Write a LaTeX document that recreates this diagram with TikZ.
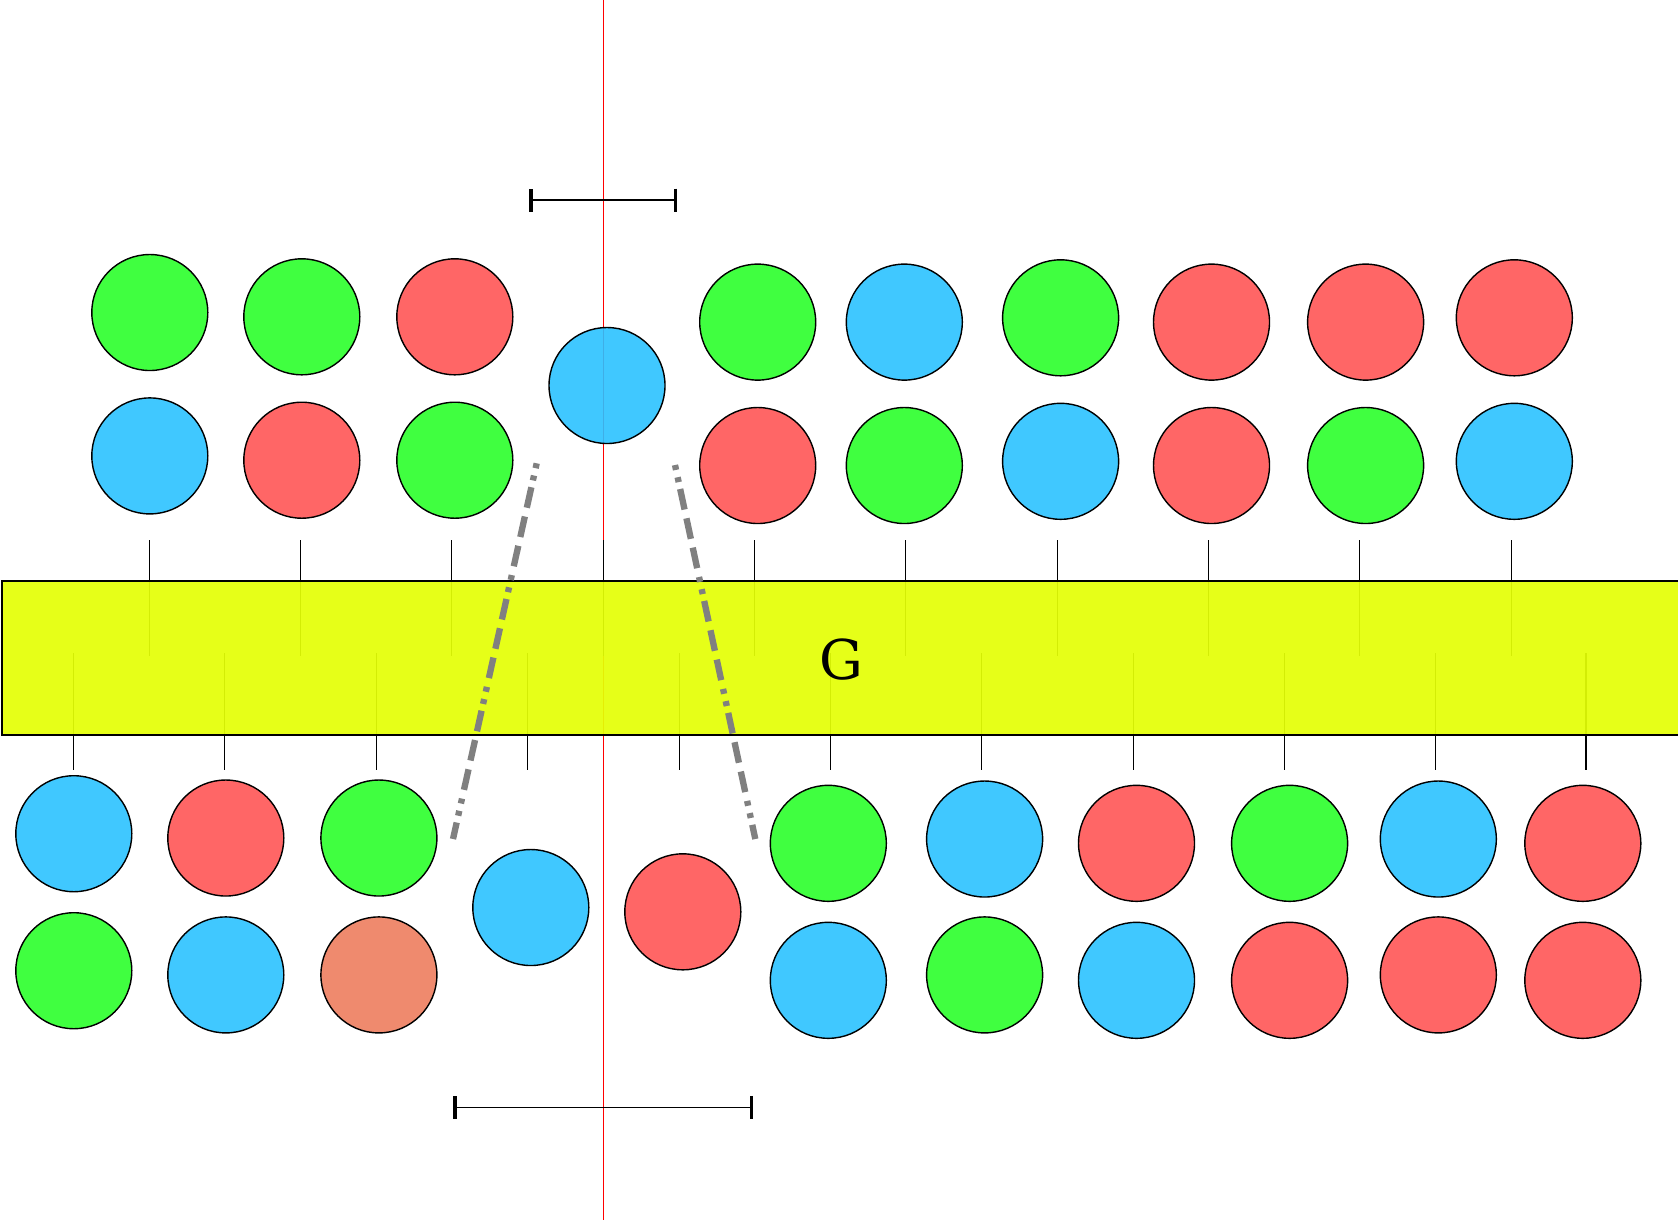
\documentclass[tikz,border=0pt]{standalone}
\usepackage{fontspec}
\newfontfamily\gatefont{DejaVu Serif}
\usepackage{tikz}
\usetikzlibrary{arrows.meta}
\definecolor{cgreen}{HTML}{2BFF2B}
\definecolor{cred}{HTML}{FF5555}
\definecolor{cblue}{HTML}{2BC2FF}
\definecolor{csalmon}{HTML}{ED7D5E}
\definecolor{cyellow}{HTML}{E4FF06}
\definecolor{cgray}{HTML}{808080}

\begin{document}
\begin{tikzpicture}
    % Define styles
    \tikzstyle{ball} = [circle, draw=black, line width=0.4pt, minimum size=1.16cm, inner sep=0pt, fill opacity=0.9]
    \tikzstyle{gball} = [ball, fill=cgreen]
    \tikzstyle{rball} = [ball, fill=cred]
    \tikzstyle{bball} = [ball, fill=cblue]
    \tikzstyle{sball} = [ball, fill=csalmon]
    \tikzstyle{rod} = [black, line width=0.35pt]
    \tikzstyle{gate} = [draw=black, line width=0.45pt, fill=cyellow, fill opacity=0.93]
    \tikzstyle{axis} = [red, line width=0.4pt]
    \tikzstyle{guide} = [cgray, line width=1.8pt, dash pattern=on 0.05cm off 0.075cm on 0.05cm off 0.07cm on 0.21cm off 0.09cm on 0.21cm off 0.09cm on 0.21cm off 0.09cm]
    \tikzstyle{scalebar} = [line width=0.45pt, {Bar[width=0.23cm, line width=1.0pt]}-{Bar[width=0.23cm, line width=1.0pt]}]

    \useasboundingbox (0,0) rectangle (16.78,-12.23);
    \clip (0,0) rectangle (16.78,-12.23);

    % Axis
    \coordinate (axtop) at (6.033,0);
    \coordinate (axbot) at (6.033,-12.20);
    \draw [axis] (axtop) -- (axbot);

    % Rods above the gate
    \draw [rod] (1.498,-5.404) -- (1.498,-6.56);
    \draw [rod] (3.007,-5.404) -- (3.007,-6.56);
    \draw [rod] (4.516,-5.404) -- (4.516,-6.56);
    \draw [rod] (6.036,-5.404) -- (6.036,-6.56);
    \draw [rod] (7.545,-5.404) -- (7.545,-6.56);
    \draw [rod] (9.054,-5.404) -- (9.054,-6.56);
    \draw [rod] (10.574,-5.404) -- (10.574,-6.56);
    \draw [rod] (12.083,-5.404) -- (12.083,-6.56);
    \draw [rod] (13.592,-5.404) -- (13.592,-6.56);
    \draw [rod] (15.111,-5.404) -- (15.111,-6.56);
    % Rods below the gate
    \draw [rod] (0.738,-6.53) -- (0.738,-7.70);
    \draw [rod] (2.247,-6.53) -- (2.247,-7.70);
    \draw [rod] (3.767,-6.53) -- (3.767,-7.70);
    \draw [rod] (5.276,-6.53) -- (5.276,-7.70);
    \draw [rod] (6.796,-6.53) -- (6.796,-7.70);
    \draw [rod] (8.305,-6.53) -- (8.305,-7.70);
    \draw [rod] (9.814,-6.53) -- (9.814,-7.70);
    \draw [rod] (11.333,-6.53) -- (11.333,-7.70);
    \draw [rod] (12.842,-6.53) -- (12.842,-7.70);
    \draw [rod] (14.351,-6.53) -- (14.351,-7.70);
    \draw [rod] (15.860,-6.53) -- (15.860,-7.70);

    % Gate
    \draw [gate] (0.02,-5.81) rectangle (17.2,-7.35);
    \node (glabel) at (8.41,-6.60) {\gatefont\fontsize{15.6}{18}\selectfont G};

    % Upper balls
    \node (t1) [gball] at (1.498,-3.125) {};
    \node (t2) [gball] at (3.018,-3.168) {};
    \node (t3) [rball] at (4.548,-3.168) {};
    \node (t4) [gball] at (7.577,-3.221) {};
    \node (t5) [bball] at (9.043,-3.221) {};
    \node (t6) [gball] at (10.606,-3.178) {};
    \node (t7) [rball] at (12.115,-3.221) {};
    \node (t8) [rball] at (13.656,-3.221) {};
    \node (t9) [rball] at (15.143,-3.178) {};
    \node (u1) [bball] at (1.498,-4.559) {};
    \node (u2) [rball] at (3.018,-4.602) {};
    \node (u3) [gball] at (4.548,-4.602) {};
    \node (u4) [rball] at (7.577,-4.655) {};
    \node (u5) [gball] at (9.043,-4.655) {};
    \node (u6) [bball] at (10.606,-4.613) {};
    \node (u7) [rball] at (12.115,-4.655) {};
    \node (u8) [gball] at (13.656,-4.655) {};
    \node (u9) [bball] at (15.143,-4.613) {};
    \node (m1) [bball] at (6.070,-3.855) {};

    % Lower balls
    \node (b1) [bball] at (0.738,-8.337) {};
    \node (b2) [rball] at (2.258,-8.380) {};
    \node (b3) [gball] at (3.789,-8.380) {};
    \node (b4) [gball] at (8.283,-8.433) {};
    \node (b5) [bball] at (9.846,-8.390) {};
    \node (b6) [rball] at (11.365,-8.433) {};
    \node (b7) [gball] at (12.896,-8.433) {};
    \node (b8) [bball] at (14.383,-8.390) {};
    \node (b9) [rball] at (15.828,-8.433) {};
    \node (c1) [gball] at (0.738,-9.707) {};
    \node (c2) [bball] at (2.258,-9.749) {};
    \node (c3) [sball] at (3.789,-9.749) {};
    \node (c4) [bball] at (8.283,-9.803) {};
    \node (c5) [gball] at (9.846,-9.749) {};
    \node (c6) [bball] at (11.365,-9.803) {};
    \node (c7) [rball] at (12.896,-9.803) {};
    \node (c8) [rball] at (14.383,-9.749) {};
    \node (c9) [rball] at (15.828,-9.803) {};
    \node (n1) [bball] at (5.308,-9.075) {};
    \node (n2) [rball] at (6.828,-9.118) {};

    % Guides
    \coordinate (gl1) at (5.367,-4.633);
    \coordinate (gl2) at (4.530,-8.390);
    \coordinate (gr1) at (6.750,-4.650);
    \coordinate (gr2) at (7.553,-8.390);
    \draw [guide] (gl1) -- (gl2);
    \draw [guide] (gr1) -- (gr2);

    % Scale bars
    \coordinate (sa1) at (5.29,-2.00);
    \coordinate (sa2) at (6.774,-2.00);
    \coordinate (sb1) at (4.533,-11.073);
    \coordinate (sb2) at (7.533,-11.073);
    \draw [scalebar] (sa1) -- (sa2);
    \draw [scalebar] (sb1) -- (sb2);
\end{tikzpicture}
\end{document}
